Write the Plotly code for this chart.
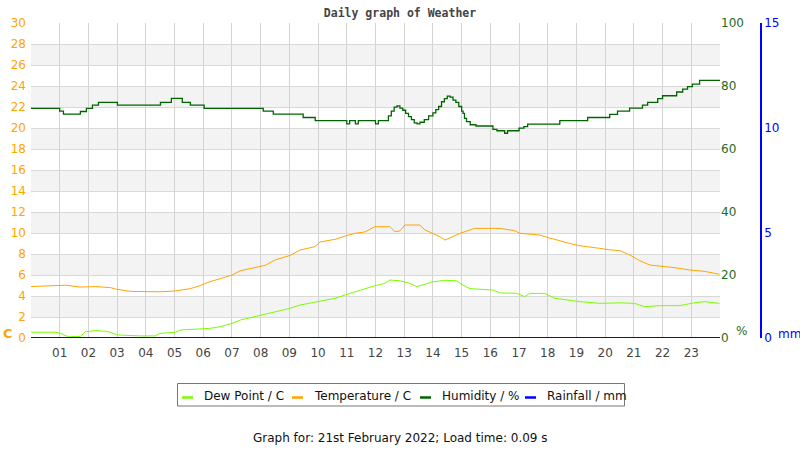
import plotly.graph_objects as go

# ---------------- data ----------------
temp_h = [0.0, 1.2, 1.72, 2.24, 2.77, 2.94, 3.46, 4.5, 5.03, 5.55, 5.9, 6.24, 6.59, 7.01, 7.29, 7.81,
          8.16, 8.5, 9.03, 9.37, 9.89, 10.07, 10.59, 10.94, 11.29, 11.63, 11.98, 12.5, 12.68, 12.85,
          13.02, 13.54, 13.72, 14.24, 14.42, 14.94, 15.29, 15.46, 16.33, 16.85, 17.03, 17.72, 17.9,
          18.42, 18.77, 19.12, 19.46, 19.81, 20.16, 20.51, 20.86, 21.2, 21.55, 21.9, 22.42, 22.94,
          23.46, 23.81, 23.98]
temp_v = [4.9, 5.03, 4.85, 4.9, 4.8, 4.67, 4.44, 4.4, 4.48, 4.7, 5.0, 5.37, 5.65, 6.0, 6.41, 6.7,
          6.92, 7.43, 7.87, 8.38, 8.7, 9.14, 9.4, 9.71, 9.97, 10.1, 10.6, 10.6, 10.12, 10.2,
          10.76, 10.76, 10.3, 9.65, 9.33, 9.97, 10.3, 10.44, 10.44, 10.22, 9.97, 9.81, 9.65,
          9.24, 9.0, 8.79, 8.7, 8.54, 8.4, 8.32, 7.9, 7.37, 6.95, 6.86, 6.7, 6.48,
          6.35, 6.16, 6.06]

dew_h = [0.0, 0.85, 1.03, 1.3, 1.72, 1.9, 2.24, 2.59, 2.77, 3.01, 3.81, 4.33, 4.5, 5.03, 5.2, 5.72,
         6.24, 6.59, 7.01, 7.29, 7.99, 8.5, 9.03, 9.37, 10.07, 10.59, 10.94, 11.46, 11.98, 12.33,
         12.5, 12.85, 13.2, 13.44, 13.72, 14.0, 14.42, 14.83, 15.0, 15.29, 16.09, 16.33, 16.92,
         17.03, 17.2, 17.37, 17.9, 18.24, 18.66, 19.12, 19.81, 20.51, 21.03, 21.37, 21.9, 22.59,
         23.1, 23.46, 23.98]
dew_v = [0.55, 0.55, 0.44, 0.12, 0.15, 0.6, 0.7, 0.65, 0.54, 0.29, 0.2, 0.2, 0.44, 0.54, 0.76, 0.83,
         0.92, 1.08, 1.4, 1.71, 2.19, 2.5, 2.83, 3.14, 3.52, 3.78, 4.1, 4.57, 4.98, 5.2,
         5.52, 5.45, 5.2, 4.89, 5.1, 5.35, 5.5, 5.45, 5.1, 4.7, 4.57, 4.3, 4.25,
         4.1, 3.94, 4.25, 4.25, 3.78, 3.6, 3.46, 3.3, 3.35, 3.3, 2.98, 3.08, 3.08,
         3.35, 3.46, 3.3]

hum_h = [0.0, 1.0, 1.13, 1.72, 1.93, 2.14, 2.35, 3.01, 4.51, 4.89, 5.27, 5.55, 6.03, 8.09, 8.44,
         9.48, 9.9, 11.0, 11.1, 11.3, 11.4, 12.0, 12.1, 12.45, 12.55, 12.65, 12.75, 12.85, 12.95,
         13.05, 13.15, 13.25, 13.35, 13.45, 13.55, 13.7, 13.85, 14.0, 14.1, 14.2, 14.3, 14.4,
         14.5, 14.6, 14.7, 14.8, 14.9, 15.0, 15.05, 15.1, 15.17, 15.3, 15.5, 16.09, 16.23, 16.5,
         16.6, 17.0, 17.17, 17.3, 18.42, 19.39, 20.16, 20.43, 20.85, 21.3, 21.48, 21.83, 22.0,
         22.49, 22.7, 22.87, 23.04, 23.29, 24.0]
hum_v = [72.9, 72.0, 71.1, 71.9, 72.9, 73.9, 74.8, 73.9, 74.8, 76.1, 74.8, 73.9, 72.9, 72.0, 71.1,
         70.0, 69.0, 68.0, 69.0, 68.0, 69.0, 68.0, 69.0, 70.5, 72.0, 73.3, 73.7, 73.0, 72.3,
         71.3, 70.3, 69.3, 68.3, 68.0, 68.5, 69.3, 70.5, 71.5, 72.5, 73.5, 75.0, 76.0,
         76.8, 76.5, 75.5, 74.8, 73.5, 72.0, 71.3, 69.7, 68.7, 67.7, 67.3, 66.2, 65.8, 65.0,
         65.8, 66.6, 67.1, 67.9, 69.0, 70.0, 71.0, 72.0, 73.0, 73.9, 74.8, 76.0, 76.9,
         78.1, 79.0, 79.8, 80.6, 81.8, 81.8]

rain_h = [0.0, 24.0]
rain_v = [0.0, 0.0]

hour_ticks = list(range(0, 25))
hour_labels = [""] + [f"{h:02d}" for h in range(1, 24)] + [""]

series_names = ["Dew Point / C", "Temperature / C", "Humidity / %", "Rainfall / mm"]
series_colors = ["#7CFC00", "#FFA500", "#006400", "#0000FF"]

# ---------------- figure ----------------
L, R, T, B = 31, 20, 23, 112
W, H = 800, 450
pw = W - L - R
ph = H - T - B
plot_right = 720
xdom = (plot_right - L) / pw

def px_x(x):
    return (x - L) / pw

def px_y(y):
    return (H - B - y) / ph

fig = go.Figure()
fig.add_trace(go.Scatter(x=dew_h, y=dew_v, mode="lines", name=series_names[0],
                         line=dict(color=series_colors[0], width=1)))
fig.add_trace(go.Scatter(x=temp_h, y=temp_v, mode="lines", name=series_names[1],
                         line=dict(color=series_colors[1], width=1)))
fig.add_trace(go.Scatter(x=hum_h, y=hum_v, mode="lines", name=series_names[2], yaxis="y2",
                         line=dict(color=series_colors[2], width=1.3, shape="hv")))
fig.add_trace(go.Scatter(x=rain_h, y=rain_v, mode="lines", name=series_names[3], yaxis="y3",
                         line=dict(color=series_colors[3], width=2)))

# alternating bands
for lo in range(2, 30, 4):
    fig.add_shape(type="rect", xref="x", yref="y", x0=0, x1=24, y0=lo, y1=lo + 2,
                  fillcolor="#F3F3F3", line_width=0, layer="below")

font = "DejaVu Sans, sans-serif"
fig.update_layout(
    width=W, height=H,
    margin=dict(l=L, r=R, t=T, b=B),
    paper_bgcolor="white", plot_bgcolor="white",
    font=dict(family=font, size=12, color="#444"),
    showlegend=False,
    title=dict(text="<b>Daily graph of Weather</b>", x=0.5, xref="container",
               y=1 - 13 / H, yref="container", xanchor="center", yanchor="middle",
               font=dict(family="DejaVu Sans Mono, monospace", size=11.5, color="#444")),
    xaxis=dict(domain=[0, xdom], range=[0, 24], tickvals=hour_ticks, ticktext=hour_labels,
               showgrid=True, gridcolor="#D3D3D3", gridwidth=1, zeroline=False,
               showline=False, ticks="", ticklabelstandoff=6,
               tickfont=dict(size=12, color="#444")),
    yaxis=dict(range=[0, 30], dtick=2, showgrid=True, gridcolor="#D8D8D8", zeroline=False,
               tickfont=dict(size=12, color="#FFA500"), ticks="", ticklabelstandoff=4),
    yaxis2=dict(range=[0, 100], tickvals=[0, 20, 40, 60, 80, 100], overlaying="y",
                side="right", anchor="x", showgrid=False, zeroline=False, ticks="",
                tickfont=dict(size=12, color="#1E6B1E")),
    yaxis3=dict(range=[0, 15], tickvals=[0, 5, 10, 15], overlaying="y", side="right",
                anchor="free", position=px_x(761), showgrid=False, zeroline=False,
                showline=True, linecolor="#0000FF", linewidth=1.5, ticks="",
                tickfont=dict(size=12, color="#0000FF")),
)

def ann(text, x, y, color, size=12, xanchor="center"):
    fig.add_annotation(text=text, x=px_x(x), y=px_y(y), xref="paper", yref="paper",
                       xanchor=xanchor, yanchor="middle", showarrow=False,
                       font=dict(size=size, color=color))

ann("<b>C</b>", 8, 333, "#FFA500", 13)
ann("%", 741, 331, "#1E6B1E")
ann("mm", 776, 334, "#0000FF", xanchor="left")
ann("Graph for: 21st February 2022; Load time: 0.09 s", 400, 438, "#111")

# custom legend box
fig.add_shape(type="rect", xref="paper", yref="paper", x0=px_x(177.5), x1=px_x(624.5),
              y0=px_y(406), y1=px_y(383.5), line=dict(color="#777", width=1),
              fillcolor="white")
sym_x = [182, 292, 420, 525]
txt_x = [202, 312, 440, 545]
for name, col, sx, tx in zip(series_names, series_colors, sym_x, txt_x):
    fig.add_shape(type="line", xref="paper", yref="paper", x0=px_x(sx), x1=px_x(sx + 11),
                  y0=px_y(397.5), y1=px_y(397.5), line=dict(color=col, width=2.5))
    ann(name, tx, 396, "#111", xanchor="left")

fig.write_html("out.html")
